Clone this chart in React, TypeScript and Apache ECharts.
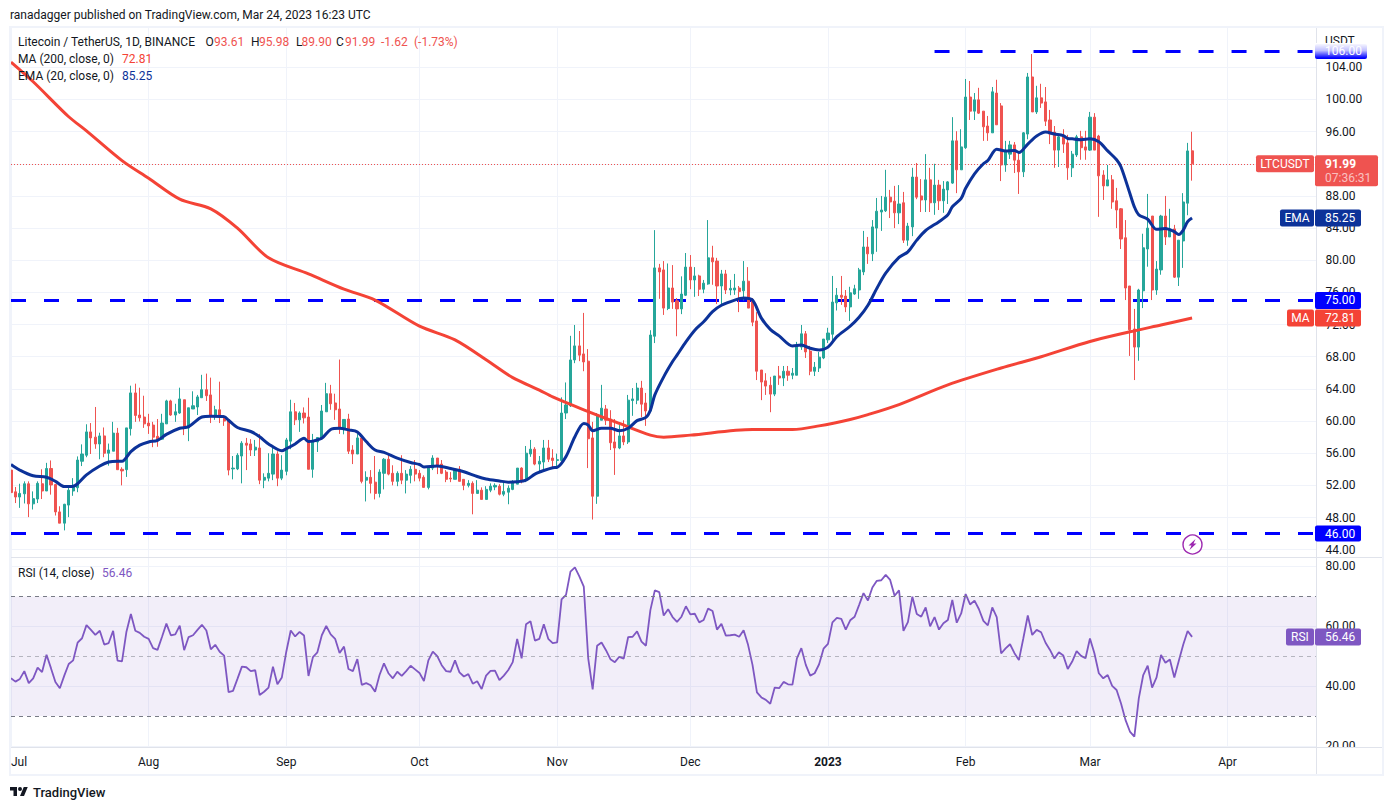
import React, { useEffect, useRef } from 'react';
import * as echarts from 'echarts';

const FONT = 'Roboto, sans-serif';
const TEXT = '#131722';
const UP = '#26a69a';
const DOWN = '#ef5350';
const GRID = '#f0f3fa';
const DIVIDER = '#e0e3eb';
const LEVEL = '#0000ff';
const MA_COLOR = '#f44336';
const EMA_COLOR = '#0c3299';
const RSI_COLOR = '#7e57c2';

// one slot per day from Jul 1 2022, the axis runs on past the last candle
const SLOTS = 295;
const categories = Array.from({ length: SLOTS }, (_, i) =>
  new Date(Date.UTC(2022, 6, 1 + i)).toISOString().slice(0, 10)
);
const monthStarts = [0, 31, 62, 92, 123, 153, 184, 215, 243, 274];
const monthNames = ['Jul', 'Aug', 'Sep', 'Oct', 'Nov', 'Dec', '2023', 'Feb', 'Mar', 'Apr'];

const priceTicks = [44, 48, 52, 56, 60, 64, 68, 72, 76, 80, 84, 88, 92, 96, 100, 104];
const rsiTicks = [20, 40, 60, 80];
const levels = [75, 46];
const topLevel = 106;
const topLevelStart = 208;
const lastClose = 91.99;
const lastMa = 72.81;
const lastEma = 85.25;
const lastRsi = 56.46;

// open, close, low, high
const candles = [
  [53.9, 51.1, 50.1, 56.4], [51.2, 50.55, 49.8, 51.8], [50.55, 51, 49.2, 52.2], [50.95, 52.2, 49.75, 52.5], [52.2, 49.7, 48.05, 52.5],
  [49.7, 50.35, 49, 51.25], [50.3, 52.25, 49.8, 52.5], [52.2, 51.3, 50.3, 54], [51.3, 54.1, 51.3, 54.8], [54.1, 52.05, 50.85, 55.1],
  [52.1, 48.7, 48.25, 52.1], [48.7, 47.3, 47.3, 49.4], [47.3, 49.65, 46.4, 49.7], [49.55, 51.4, 48.05, 51.8], [51.3, 51.95, 50.7, 52.9],
  [51.7, 55.15, 51.15, 55.6], [55, 55.9, 54.4, 57.1], [55.75, 58.65, 55.5, 59.6], [58.65, 57.9, 55.9, 59.75], [58, 57.15, 56.55, 61.75],
  [57.15, 58.15, 55.25, 58.55], [58.15, 56, 55.5, 59.2], [56, 56.4, 54.45, 57.2], [56.25, 58.5, 56.25, 59.9], [58.5, 53.95, 53.95, 59.15],
  [54, 53.8, 52, 54.25], [53.95, 59.15, 53.05, 59.15], [59.05, 63.5, 58.2, 64.4], [63.5, 60.7, 59.9, 64.65], [60.75, 60.4, 59.95, 64.15],
  [60.5, 59.65, 59.15, 63.15], [59.75, 59.4, 58.4, 60.9], [59.5, 58, 56.75, 59.9], [58.1, 57.75, 56.8, 60.25], [57.75, 59.75, 57.65, 60.9],
  [59.65, 62.5, 59.65, 62.65], [62.5, 60.75, 60.65, 62.65], [60.75, 61.15, 59.9, 62.15], [61, 62.75, 60.9, 64.15], [62.65, 59.15, 58.25, 62.65],
  [59.15, 61.65, 57.5, 61.65], [61.5, 61.9, 61.5, 63.7], [61.75, 63, 60.75, 63.25], [62.9, 63.9, 62.9, 65.75], [63.9, 63.15, 62.5, 65.9],
  [63.25, 60.65, 59.75, 65.4], [60.65, 61.4, 60.15, 61.9], [61.4, 60.5, 59.75, 64.9], [60.5, 60, 59.4, 60.75], [60.15, 53.9, 53.25, 60.15],
  [54.05, 54.15, 52.75, 55.65], [54.05, 55.75, 53.9, 56], [55.65, 57.25, 52.25, 57.5], [57.25, 57, 53.9, 57.9], [57.15, 56.4, 55.65, 57.75],
  [56.4, 56.75, 55.65, 57.65], [56.65, 52.65, 52.15, 58.4], [52.65, 53, 51.65, 53.5], [52.9, 53.5, 52.5, 56], [53.4, 55.9, 52.65, 56.65],
  [55.9, 52.9, 51.9, 56.25], [52.9, 53.9, 52.65, 55.75], [53.75, 57.65, 53.25, 57.9], [57.5, 61.15, 56.5, 62.65], [61.15, 60.15, 59.5, 62.25],
  [60.15, 61, 58.65, 61.2], [61, 60.4, 59.7, 61.7], [60.5, 54, 54, 62.9], [54, 57.45, 52.95, 58.4], [57.4, 57.95, 56.15, 58],
  [57.85, 61.25, 57.65, 62], [61.15, 63.4, 61.15, 64.75], [63.4, 62.15, 61.4, 64.5], [62.25, 61.4, 60.15, 63.4], [61.5, 59, 58.4, 67.65],
  [59, 60.2, 58.35, 60.2], [60.25, 56.25, 55.9, 60.9], [56.4, 55.9, 54.65, 57], [55.9, 57.9, 55.9, 58.45], [57.9, 52.5, 52.25, 57.9],
  [52.65, 53, 50, 53.75], [53, 52.25, 51, 53.9], [52.4, 51, 50.25, 55.65], [51, 53.65, 50.5, 54], [53.5, 55.25, 51.5, 55.4],
  [55.25, 53.4, 53.25, 56], [53.5, 52.5, 52, 54.5], [52.5, 53.5, 51.9, 53.75], [53.5, 52.65, 52.15, 55.75], [52.65, 53.4, 51, 53.9],
  [53.25, 54, 52.25, 54.4], [54, 53.4, 52.5, 55.15], [53.5, 52.9, 52.5, 53.9], [53, 51.75, 51.75, 53.25], [51.75, 54.25, 51.5, 54.4],
  [54.15, 55.4, 53.9, 55.75], [55.4, 54.5, 53.4, 55.4], [54.65, 53.5, 53.4, 55.15], [53.65, 52.75, 52.4, 53.9], [52.9, 52.8, 52.4, 53.65],
  [52.75, 54, 52.75, 54.15], [54, 52.5, 52.5, 54.4], [52.75, 52, 51.4, 52.75], [52, 52.25, 51.75, 52.65], [52.25, 51, 48.4, 52.5],
  [51, 51.4, 51, 52.65], [51.4, 50.25, 50.25, 51.75], [50.25, 51.5, 50.25, 51.9], [51.4, 51.9, 51.15, 52.25], [51.8, 52, 51.4, 52.25],
  [51.9, 50.9, 50.75, 52.15], [50.9, 51.25, 50.65, 52.4], [51.15, 51.65, 49.65, 52], [51.5, 52.4, 51.4, 52.65], [52.15, 54.15, 52.15, 54.15],
  [54.15, 52.5, 52.25, 54.25], [52.65, 56, 52.4, 56.9], [55.9, 56.5, 55.55, 57.65], [56.5, 54.65, 54.5, 56.75], [54.65, 55, 53.65, 55.65],
  [54.9, 56.65, 53.9, 57.65], [56.65, 55.25, 54.9, 57.65], [55.4, 55.1, 54.05, 56.5], [55.1, 55.2, 54.3, 55.95], [55.1, 61, 54.95, 62.95],
  [61, 62, 60.25, 64.8], [61.9, 67.6, 61.75, 70.6], [67.6, 69.35, 67.2, 71.95], [69.35, 68.2, 67.45, 71.2], [68.35, 67.35, 66.2, 73.45],
  [67.45, 57.8, 54.15, 68.95], [57.9, 50.65, 47.75, 59.9], [50.65, 60.65, 49.7, 61], [60.1, 61.6, 60.1, 64.5], [61.5, 60.1, 59.5, 62],
  [60.25, 57.3, 56.4, 61.35], [57.4, 56.65, 53.3, 60.25], [56.65, 58.15, 56.5, 59.5], [58.15, 57.4, 57, 60.1], [57.4, 62.6, 57.15, 63.25],
  [62.55, 62.75, 60.65, 64.1], [62.6, 64.1, 62.1, 64.75], [64.1, 62.1, 60.5, 65], [62.25, 61.25, 59.4, 63.5], [61.25, 70.7, 61.25, 71.3],
  [70.55, 79.05, 69.7, 83.75], [79.05, 78.55, 75.2, 79.55], [78.8, 74.05, 73.2, 79.9], [74, 76.55, 73.8, 79.6], [76.55, 74.8, 73.95, 79.4],
  [74.95, 73.95, 70.55, 75.3], [73.95, 75.8, 73.3, 78], [75.65, 79.15, 75.55, 80.9], [79.15, 77.55, 76.4, 80.65], [77.55, 78.05, 75.45, 79.15],
  [78.05, 76.4, 75.55, 78.2], [76.4, 77.15, 75.9, 77.55], [77.05, 80.3, 76.95, 85], [80.3, 79.8, 76.95, 81.8], [79.9, 76.8, 74.55, 80.3],
  [76.8, 78.3, 74.45, 78.8], [78.3, 76.3, 75.8, 78.8], [76.3, 76.5, 75.65, 77.55], [76.3, 76.55, 75.7, 78.3], [76.55, 76.1, 73.55, 76.8],
  [76.2, 77.4, 75, 79.9], [77.4, 74.05, 74.05, 79.15], [75.05, 72.3, 71.8, 75.3], [72.45, 66.2, 65.1, 73.55], [66.35, 64.85, 62.6, 66.35],
  [65, 64.35, 63.25, 65.95], [64.45, 63.35, 61.1, 65.5], [63.35, 65.6, 63.1, 65.6], [65.6, 65.35, 64.5, 66.85], [65.35, 66.2, 64.35, 66.85],
  [66.2, 65.7, 65, 66.85], [65.7, 65.95, 65.2, 66.6], [65.7, 69.35, 65.7, 69.85], [69.2, 70.85, 68.85, 71.95], [70.85, 68.6, 67.85, 71.2],
  [68.7, 66.2, 65.7, 69.35], [66.2, 66.7, 65.6, 67.35], [66.6, 67.95, 66.1, 68.6], [67.85, 70.2, 67.7, 70.2], [70.1, 70.95, 69.7, 71.6],
  [70.8, 74.8, 70, 78.05], [74.7, 75.65, 73.75, 76.55], [75.65, 75.4, 74.45, 78.05], [75.55, 74.2, 73.55, 76.3], [74.2, 75.95, 72.45, 76.7],
  [75.8, 76.45, 75.7, 76.95], [76.3, 78.8, 75.2, 79.05], [78.55, 81.65, 78.15, 83.65], [81.65, 80.8, 79.55, 82.9], [80.8, 84.15, 79.9, 85],
  [84, 86.1, 81.05, 87.75], [86, 86.25, 83.65, 88], [86.15, 87.85, 86, 91.25], [87.85, 87.25, 85.25, 88.75], [87.35, 85.9, 84, 89.25],
  [85.9, 87, 84.5, 89.35], [87.15, 82.5, 82.15, 88.5], [82.5, 84.25, 81.8, 84.65], [84.15, 90.35, 83, 91.5], [90.35, 87.85, 87.6, 92.1],
  [88, 87.5, 86, 90.1], [87.5, 90, 86, 93.2], [90, 87.15, 86, 91.5], [87.15, 89.35, 85.65, 92], [89.35, 87.4, 86.25, 90],
  [87.4, 88.85, 85.9, 89.85], [88.75, 89.75, 87, 89.85], [89.6, 94.85, 89.5, 97.8], [94.85, 91.25, 88.35, 96.05], [91.25, 94.1, 91.25, 96.3],
  [94, 100.3, 93.85, 102.55], [100.3, 98.55, 97.45, 102.3], [98.55, 99.95, 97.45, 100.8], [99.95, 98.3, 98.2, 101.45], [98.55, 96.6, 94.85, 98.55],
  [96.7, 95.85, 94.85, 97.95], [95.85, 100.95, 95.85, 101.55], [100.8, 96.85, 96.85, 102.45], [99.2, 91.85, 89.85, 99.55], [91.85, 93.6, 91, 94.85],
  [93.2, 94.35, 92.6, 94.85], [94.35, 92.45, 90.85, 94.7], [92.45, 91, 88.25, 93.45], [91, 95.85, 90.35, 95.95], [95.7, 102.8, 95.05, 103.3],
  [102.8, 98.45, 98.45, 105.65], [98.45, 100.2, 98.2, 101.7], [100.2, 99.55, 98.95, 101.95], [99.7, 97.3, 96.7, 101.55], [97.45, 95.7, 94.45, 98.7],
  [95.95, 93.7, 91.5, 96.7], [93.7, 95.35, 91.6, 95.7], [95.45, 94.45, 93.35, 96.3], [94.6, 91.5, 90, 95.6], [91.5, 93.2, 90.35, 93.6],
  [93.1, 95.35, 92.85, 95.6], [95.35, 94, 92.5, 96.1], [94.1, 93.7, 92.5, 96.1], [93.7, 97.8, 93.6, 98.45], [97.8, 93.7, 93.7, 98.3],
  [95.45, 90.5, 85.4, 95.6], [90.6, 89.25, 87.5, 91.2], [89.25, 90, 89.25, 91.85], [90, 87.25, 86.4, 90.6], [87.4, 86.25, 84, 89],
  [86.4, 82.65, 81.4, 86.5], [82.8, 76.55, 75.05, 85], [76.8, 71.35, 68.1, 76.8], [71.45, 69.2, 65.1, 73.95], [69.2, 76.3, 67.5, 76.45],
  [76.2, 81.55, 74.05, 83.3], [81.4, 84, 79.2, 88.25], [85.5, 76.3, 75.05, 85.5], [76.3, 78.9, 75.7, 79.9], [78.8, 85.5, 78.2, 85.65],
  [85.5, 82.9, 81.9, 88], [82.9, 83.9, 82.9, 86.4], [83.9, 77.9, 77.8, 84.4], [77.9, 82.5, 76.8, 82.5], [82.4, 87.25, 79.05, 88.35],
  [87.1, 93.6, 85.6, 94.6], [93.61, 91.99, 89.9, 95.98],
];

// [day slot, value]
const emaPoints = [
  [0, 54.6], [2, 53.9], [5, 53.2], [8, 53], [10, 52.5], [12, 51.85], [14, 51.9], [15, 52.2], [17, 53.3], [20, 54.4],
  [22, 54.9], [24, 55], [25, 55], [27, 56.2], [29, 57], [31, 57.4], [33, 57.6], [35, 58.35], [38, 59.1], [40, 59.3],
  [43, 60.5], [45, 60.6], [48, 60.55], [49, 60.1], [51, 59.2], [54, 58.7], [56, 58.05], [58, 57.15], [61, 56.3], [62, 56.55],
  [64, 57.15], [66, 57.85], [67, 57.45], [68, 57.5], [70, 57.85], [72, 58.95], [74, 59.1], [76, 58.9], [78, 58.65], [80, 57.45],
  [82, 56.4], [84, 56.1], [87, 55.4], [90, 54.85], [92, 54.6], [93, 54.3], [96, 54.4], [99, 54.1], [102, 53.7], [105, 53.1],
  [107, 52.8], [110, 52.55], [112, 52.4], [114, 52.45], [116, 52.65], [118, 53.4], [120, 53.85], [122, 54.2], [123, 54.25], [125, 55.6],
  [127, 58.05], [129, 59.7], [130, 59.5], [131, 58.8], [133, 59.1], [135, 59.1], [137, 58.8], [139, 59.1], [141, 60.05], [143, 60.45],
  [144, 61.35], [145, 63.25], [147, 65.5], [149, 67.4], [150, 68.2], [152, 69.85], [154, 71.3], [156, 72.35], [158, 73.6], [160, 74.4],
  [163, 75.05], [165, 75.3], [167, 75.05], [169, 72.8], [171, 71.4], [173, 70.6], [176, 69.35], [178, 69.45], [180, 69.05], [182, 68.85],
  [184, 69.2], [186, 70.5], [189, 71.8], [191, 72.9], [193, 74.4], [195, 76.5], [197, 78.4], [200, 80.35], [202, 81.05], [204, 82.5],
  [206, 83.7], [209, 84.8], [211, 85.65], [212, 86.65], [214, 87.7], [215, 88.95], [217, 90.75], [219, 92], [220, 92.4], [222, 93.8],
  [224, 93.6], [226, 93.65], [227, 93.4], [229, 94.45], [231, 95.45], [233, 95.95], [235, 95.7], [237, 95.5], [238, 95.15], [239, 95.1],
  [241, 95], [243, 95.1], [245, 94.75], [247, 93.6], [249, 92.5], [250, 91.6], [252, 88.3], [253, 86.65], [254, 85.65], [256, 85.1],
  [258, 83.85], [260, 83.95], [262, 83.55], [263, 83.2], [264, 83.75], [265, 84.8], [266, 85.25],
];

const maPoints = [
  [0, 104.65], [5, 102.2], [13, 97.85], [17, 96.1], [25, 92.4], [31, 90.2], [38, 87.6], [45, 86.4], [51, 84], [58, 80.3],
  [67, 78.3], [75, 76.4], [82, 75.05], [92, 71.8], [100, 70.1], [108, 67.25], [113, 65.4], [119, 63.85], [122, 63], [129, 61.4],
  [137, 59.7], [144, 58.25], [147, 58], [153, 58.25], [167, 58.95], [176, 58.95], [182, 59.4], [189, 60.2], [193, 60.8], [200, 62.05],
  [211, 64.5], [223, 66.6], [232, 68], [243, 69.9], [252, 71.1], [259, 71.95], [266, 72.81],
];

const rsiValues = [
  42.6, 41.5, 42.4, 45, 41, 42.6, 46.2, 44.7, 50.5, 46,
  41.4, 39.3, 43.5, 47.4, 48.6, 54.5, 56, 60.4, 58.8, 57.1,
  58.5, 53.9, 54.4, 58.5, 48.5, 48.3, 58.2, 64.1, 58.5, 57.8,
  56.5, 55.8, 52.7, 52.1, 56.4, 60.9, 57, 57.3, 60.2, 52,
  56.4, 57, 58.8, 60.5, 58.6, 52.3, 53.8, 51.5, 50.2, 38,
  38.4, 42.4, 46.5, 46.3, 45, 45.3, 37, 38.1, 39.5, 46.5,
  40.6, 42.9, 51.5, 58.6, 56.6, 58.1, 56.9, 43.4, 49.7, 51.3,
  57, 60.1, 57.3, 55.8, 51.1, 53.2, 45.7, 45, 49, 40.4,
  41, 40.3, 38.1, 43.7, 47.6, 44.3, 42.6, 44.8, 43.4, 45,
  46.8, 45.6, 44.4, 41.7, 48.6, 51.5, 50, 47, 45, 44.8,
  48.6, 44.6, 43.2, 44, 40.8, 41.6, 39, 43.5, 45.1, 45.2,
  42, 43.5, 45.4, 48, 55.8, 49.3, 60.7, 61.7, 55.2, 55.8,
  60.7, 55.8, 54.4, 54.6, 69, 70.5, 78.3, 79.7, 76.7, 73.3,
  49.3, 38.9, 53.5, 54.6, 52, 49, 48, 49.8, 49.2, 56.4,
  56.5, 58.3, 54.9, 53.5, 65.4, 72, 71.4, 63.6, 65.7, 63.1,
  61.5, 63.2, 66.7, 64, 64.2, 61.3, 62.1, 65.9, 65.1, 58.9,
  60.8, 56.9, 57, 57.2, 56.5, 58.7, 53.8, 47.1, 37.9, 36.2,
  35.4, 34.1, 39.5, 39.3, 41.4, 40.6, 40.5, 49.3, 52.7, 47.1,
  43.5, 44.3, 47.3, 52.5, 54.1, 61.3, 62.8, 62.5, 58.9, 62,
  63.2, 67.1, 71.1, 68.6, 73, 75.2, 75.4, 77.2, 75.5, 70.2,
  72, 58.5, 61.4, 69.9, 64.1, 63.2, 66.3, 60, 63.1, 58.9,
  61, 62.1, 68.8, 61.2, 64.3, 70.8, 67.3, 68.6, 65.7, 61.8,
  60.3, 66.3, 63.1, 50.9, 52.6, 54, 51, 48.7, 56, 63.6,
  57.1, 58.8, 58, 54.5, 52.1, 49.2, 51.3, 50.2, 45.7, 48.2,
  51.7, 50.1, 49.3, 55.9, 51, 44.3, 42.6, 43.7, 40.1, 38.7,
  34.2, 28.7, 24.8, 23.1, 35.9, 43.7, 46.8, 39.5, 42.9, 50.4,
  47.8, 48.9, 42.9, 48.4, 53.8, 58.4, 56.46,
];

echarts.graphic.registerShape(
  'tvLogo',
  echarts.graphic.extendPath('M14 22H7V11H0V4h14v18zM28 22h-8l7.5-18h8L28 22zM24 8a4 4 0 1 1-8 0 4 4 0 0 1 8 0z', {})
);

const label = (text: string, x: number, y: number, fill = TEXT, size = 12, align = 'left', weight = 'normal') => ({
  type: 'text',
  z: 120,
  silent: true,
  style: {
    x,
    y,
    text,
    fill,
    font: `${weight} ${size}px ${FONT}`,
    align,
    textAlign: align,
    verticalAlign: 'middle',
    textVerticalAlign: 'middle',
  },
});

const box = (x: number, y: number, width: number, height: number, fill: any, z = 110) => ({
  type: 'rect',
  z,
  silent: true,
  shape: { x, y, width, height, r: 2 },
  style: { fill },
});

const rule = (x1: number, y1: number, x2: number, y2: number, stroke = DIVIDER) => ({
  type: 'line',
  z: 5,
  silent: true,
  shape: { x1, y1, x2, y2 },
  style: { stroke, lineWidth: 1 },
});

export default function App() {
  const chartRef = useRef<HTMLDivElement>(null);

  useEffect(() => {
    if (!chartRef.current) return;
    const chart = echarts.init(chartRef.current, null, { renderer: 'svg' });

    const monthName = (value: string) => monthNames[monthStarts.indexOf(categories.indexOf(value))];
    const isMonthStart = (index: number) => monthStarts.includes(index);
    const splitLine = { show: true, interval: isMonthStart, lineStyle: { color: GRID, width: 1 } };
    const quiet = { symbol: 'none', silent: true, animation: false, label: { show: false }, emphasis: { disabled: true } };
    const valueAxis = (gridIndex: number, min: number, max: number, ticks: number[]) => ({
      type: 'value',
      gridIndex,
      position: 'right',
      min,
      max,
      axisLine: { show: false },
      axisTick: { show: false, customValues: ticks },
      splitLine: { show: true, lineStyle: { color: GRID, width: 1 } },
      axisLabel: {
        customValues: ticks,
        formatter: (v: number) => v.toFixed(2),
        color: TEXT,
        fontFamily: FONT,
        fontSize: 12,
        margin: 9,
        align: 'left',
        padding: [2, 0, 0, 0],
      },
    });

    chart.setOption({
      animation: false,
      backgroundColor: '#ffffff',
      grid: [
        { left: 11, top: 28, width: 1305.4, height: 529 },
        { left: 11, top: 558, width: 1305.4, height: 189 },
      ],
      xAxis: [
        {
          type: 'category',
          gridIndex: 0,
          data: categories,
          boundaryGap: false,
          axisLine: { show: false },
          axisTick: { show: false },
          axisLabel: { show: false },
          splitLine,
        },
        {
          type: 'category',
          gridIndex: 1,
          data: categories,
          boundaryGap: false,
          axisLine: { show: false },
          axisTick: { show: false },
          splitLine,
          axisLabel: {
            interval: isMonthStart,
            alignMinLabel: 'left',
            formatter: (v: string) => (monthName(v) === '2023' ? '{b|2023}' : monthName(v)),
            color: TEXT,
            fontFamily: FONT,
            fontSize: 12,
            margin: 9,
            rich: { b: { fontWeight: 'bold', color: TEXT, fontFamily: FONT, fontSize: 12 } },
          },
        },
      ],
      yAxis: [valueAxis(0, 43.09, 108.89, priceTicks), valueAxis(1, 19.63, 82.84, rsiTicks)],
      series: [
        {
          name: 'LTCUSDT',
          type: 'candlestick',
          xAxisIndex: 0,
          yAxisIndex: 0,
          data: candles,
          barWidth: 2.6,
          clip: false,
          z: 2,
          itemStyle: { color: UP, color0: DOWN, borderColor: UP, borderColor0: DOWN, borderWidth: 1 },
          markLine: {
            ...quiet,
            z: 1,
            lineStyle: { color: DOWN, type: [1, 2], width: 1 },
            data: [{ yAxis: lastClose }],
          },
        },
        {
          name: 'MA',
          type: 'line',
          xAxisIndex: 0,
          yAxisIndex: 0,
          data: maPoints,
          smooth: 0.3,
          showSymbol: false,
          lineStyle: { color: MA_COLOR, width: 3 },
          z: 3,
        },
        {
          name: 'EMA',
          type: 'line',
          xAxisIndex: 0,
          yAxisIndex: 0,
          data: emaPoints,
          smooth: 0.3,
          showSymbol: false,
          lineStyle: { color: EMA_COLOR, width: 3 },
          z: 4,
        },
        {
          // the drawn levels sit under the candles
          name: 'Levels',
          type: 'line',
          xAxisIndex: 0,
          yAxisIndex: 0,
          data: [],
          z: 1,
          markLine: {
            ...quiet,
            z: 1,
            lineStyle: { color: LEVEL, type: [15, 18], width: 3 },
            data: [
              ...levels.map((v) => ({ yAxis: v })),
              [{ coord: [categories[topLevelStart], topLevel] }, { coord: [categories[SLOTS - 1], topLevel] }],
            ],
          },
        },
        {
          name: 'RSI',
          type: 'line',
          xAxisIndex: 1,
          yAxisIndex: 1,
          data: rsiValues,
          showSymbol: false,
          lineStyle: { color: RSI_COLOR, width: 1.8 },
          z: 4,
          markArea: {
            silent: true,
            animation: false,
            itemStyle: { color: 'rgba(126,87,194,0.1)' },
            data: [[{ coord: [categories[0], 70] }, { coord: [categories[SLOTS - 1], 30] }]],
          },
          markLine: {
            ...quiet,
            data: [
              { yAxis: 70, lineStyle: { color: '#787b86', type: [4, 4], width: 1 } },
              { yAxis: 50, lineStyle: { color: 'rgba(120,123,134,0.5)', type: [4, 4], width: 1 } },
              { yAxis: 30, lineStyle: { color: '#787b86', type: [4, 4], width: 1 } },
            ],
          },
        },
      ],
    });

    const priceY = (v: number) => chart.convertToPixel({ yAxisIndex: 0 }, v) as number;
    const rsiY = (v: number) => chart.convertToPixel({ yAxisIndex: 1 }, v) as number;
    const fade = new echarts.graphic.LinearGradient(0, 0, 0, 1, [
      { offset: 0, color: 'rgba(255,255,255,1)' },
      { offset: 0.5, color: 'rgba(255,255,255,0.75)' },
      { offset: 1, color: 'rgba(255,255,255,0)' },
    ]);

    chart.setOption({
      graphic: [
        // frame and pane dividers
        {
          type: 'rect',
          z: 6,
          silent: true,
          shape: { x: 10, y: 27, width: 1373, height: 748 },
          style: { fill: 'none', stroke: GRID, lineWidth: 2 },
        },
        rule(11, 557.5, 1382, 557.5),
        rule(11, 747.5, 1382, 747.5),
        rule(1316.5, 28, 1316.5, 774),
        box(1317, 748, 64, 6, '#ffffff', 100),

        // header texts
        label('ranadagger published on TradingView.com, Mar 24, 2023 16:23 UTC', 10, 15),
        label('Litecoin / TetherUS, 1D, BINANCE', 18, 42),
        label('O', 205.5, 42),
        label('93.61', 214, 42, DOWN),
        label('H', 251, 42),
        label('95.98', 259, 42, DOWN),
        label('L', 296, 42),
        label('89.90', 301.5, 42, DOWN),
        label('C', 336, 42),
        label('91.99', 345, 42, DOWN),
        label('-1.62', 381, 42, DOWN),
        label('(-1.73%)', 414, 42, DOWN),
        label('MA (200, close, 0)', 18, 59),
        label('72.81', 122, 59, MA_COLOR),
        label('EMA (20, close, 0)', 18, 76),
        label('85.25', 122, 76, EMA_COLOR),
        label('RSI (14, close)', 18, 573),
        label('56.46', 102, 573, RSI_COLOR),

        // price scale tags
        label('USDT', 1325, 41),
        box(1315, 44, 52, 15, LEVEL),
        label('106.00', 1325, priceY(topLevel), '#ffffff'),
        { type: 'rect', z: 125, silent: true, shape: { x: 1315, y: 43, width: 52, height: 15 }, style: { fill: fade } },

        box(1256, priceY(lastClose) - 8.5, 58, 17, DOWN),
        label('LTCUSDT', 1285, priceY(lastClose), '#ffffff', 12, 'center'),
        box(1315, priceY(lastClose) - 8.5, 63, 31, DOWN),
        label('91.99', 1325, priceY(lastClose), '#ffffff', 12, 'left', 'bold'),
        label('07:36:31', 1325, priceY(lastClose) + 14, 'rgba(255,255,255,0.65)'),

        box(1280, priceY(lastEma) - 8.5, 34, 17, EMA_COLOR),
        label('EMA', 1297, priceY(lastEma), '#ffffff', 12, 'center'),
        box(1315, priceY(lastEma) - 8.5, 46, 17, EMA_COLOR),
        label('85.25', 1325, priceY(lastEma), '#ffffff'),

        box(1315, priceY(75) - 8.5, 46, 17, LEVEL),
        label('75.00', 1325, priceY(75), '#ffffff'),

        box(1287, priceY(lastMa) - 8.5, 27, 17, MA_COLOR),
        label('MA', 1300.5, priceY(lastMa), '#ffffff', 12, 'center'),
        box(1315, priceY(lastMa) - 8.5, 46, 17, MA_COLOR),
        label('72.81', 1325, priceY(lastMa), '#ffffff'),

        box(1315, priceY(46) - 8, 46, 16, LEVEL),
        label('46.00', 1325, priceY(46), '#ffffff'),

        box(1286, rsiY(lastRsi) - 8.5, 28, 17, RSI_COLOR),
        label('RSI', 1300, rsiY(lastRsi), '#ffffff', 12, 'center'),
        box(1315, rsiY(lastRsi) - 8.5, 46, 17, RSI_COLOR),
        label('56.46', 1325, rsiY(lastRsi), '#ffffff'),

        // the flash icon on the last day
        {
          type: 'circle',
          z: 100,
          silent: true,
          shape: { cx: 1192.5, cy: 544.5, r: 9.5 },
          style: { fill: '#ffffff', stroke: '#9c27b0', lineWidth: 1.4 },
        },
        {
          type: 'polygon',
          z: 101,
          silent: true,
          shape: {
            points: [[1195.5, 539], [1188.5, 545.5], [1191.5, 545.5], [1189.5, 550], [1196.5, 543.5], [1193.5, 543.5]],
          },
          style: { fill: '#9c27b0' },
        },

        // footer
        { type: 'tvLogo', z: 100, silent: true, x: 10, y: 785, scaleX: 0.5, scaleY: 0.5, style: { fill: TEXT } },
        label('TradingView', 33, 792, TEXT, 13, 'left', '500'),
      ],
    });

    return () => {
      chart.dispose();
    };
  }, []);

  return (
    <div
      ref={chartRef}
      style={{ position: 'fixed', left: 0, top: 0, width: 1393, height: 810, background: '#ffffff' }}
    />
  );
}
